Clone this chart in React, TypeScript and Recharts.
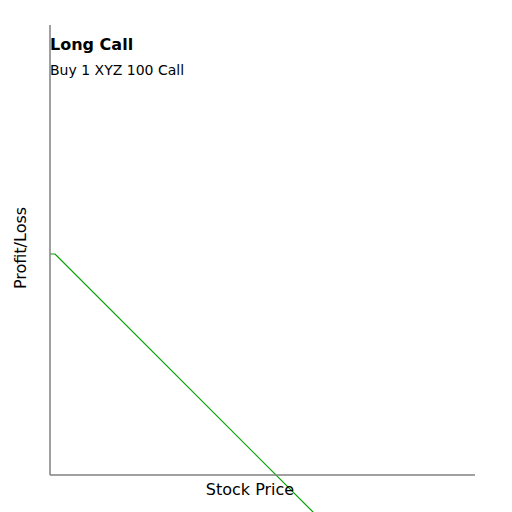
import { LineChart, Line, XAxis, YAxis, Customized } from 'recharts';

// payoff sketch (arbitrary units)
const prices = [0, 1, 60];
const profitLoss = [44.2, 44.2, -14.8];
const xDomain: [number, number] = [0, 85];
const yDomain: [number, number] = [0, 90];

const title = 'Long Call';
const subtitle = 'Buy 1 XYZ 100 Call';
const xLabel = 'Stock Price';
const yLabel = 'Profit/Loss';

const data = prices.map((p, i) => ({ price: p, pnl: profitLoss[i] }));

const FONT = '"DejaVu Sans", sans-serif';
const AXIS = '#808080';

function Titles() {
  return (
    <g fontFamily={FONT} fill="#000">
      <text x={50} y={50} fontSize={16} fontWeight="bold">
        {title}
      </text>
      <text x={50} y={75} fontSize={14}>
        {subtitle}
      </text>
    </g>
  );
}

export default function App() {
  return (
    <div style={{ position: 'absolute', left: 0, top: 0, width: 512, height: 512, background: '#fff' }}>
      {/* let the payoff line run past the axes like the original */}
      <style>{'.recharts-wrapper [clip-path]{clip-path:none !important}'}</style>
      <LineChart width={512} height={512} data={data} margin={{ top: 25, right: 37, bottom: 0, left: 0 }}>
        <XAxis
          type="number"
          dataKey="price"
          domain={xDomain}
          allowDataOverflow
          tick={false}
          tickLine={false}
          height={37}
          axisLine={{ stroke: AXIS, strokeWidth: 1.5 }}
          label={{
            content: ({ viewBox }: any) => (
              <text
                x={viewBox.x + viewBox.width / 2 - 12.5}
                y={viewBox.y + 14}
                textAnchor="middle"
                dominantBaseline="central"
                fontFamily={FONT}
                fontSize={16}
                fill="#000"
              >
                {xLabel}
              </text>
            ),
          }}
        />
        <YAxis
          type="number"
          domain={yDomain}
          allowDataOverflow
          tick={false}
          tickLine={false}
          width={50}
          axisLine={{ stroke: AXIS, strokeWidth: 1.5 }}
          label={{
            content: ({ viewBox }: any) => {
              const cx = viewBox.x + 20;
              const cy = viewBox.y + viewBox.height / 2 - 2;
              return (
                <text
                  x={cx}
                  y={cy}
                  transform={`rotate(-90, ${cx}, ${cy})`}
                  textAnchor="middle"
                  dominantBaseline="central"
                  fontFamily={FONT}
                  fontSize={16}
                  fill="#000"
                >
                  {yLabel}
                </text>
              );
            },
          }}
        />
        <Line
          type="linear"
          dataKey="pnl"
          stroke="#00a000"
          strokeWidth={1.2}
          dot={false}
          activeDot={false}
          isAnimationActive={false}
        />
        <Customized component={Titles} />
      </LineChart>
    </div>
  );
}
